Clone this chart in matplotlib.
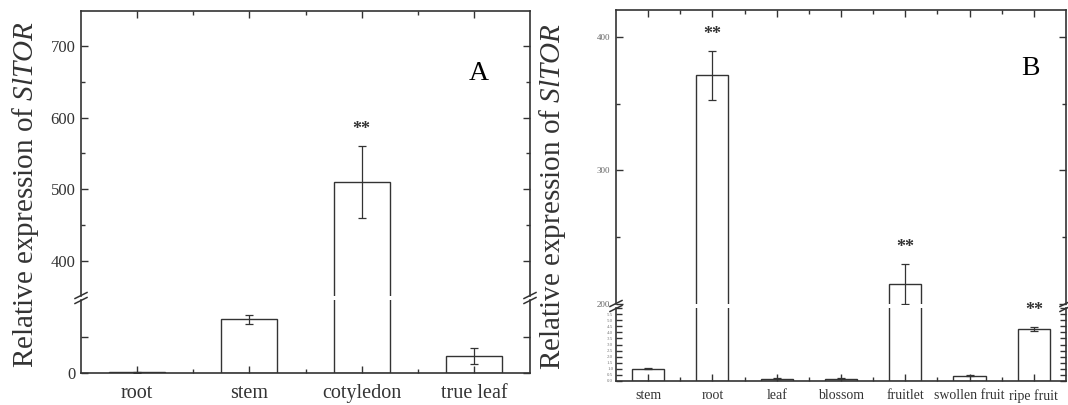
import matplotlib
matplotlib.use('Agg')
import matplotlib.pyplot as plt
from matplotlib.lines import Line2D
from matplotlib.ticker import MultipleLocator

plt.rcParams['font.family'] = 'Liberation Serif'
plt.rcParams['mathtext.fontset'] = 'custom'
plt.rcParams['mathtext.rm'] = 'Liberation Serif'
plt.rcParams['mathtext.it'] = 'Liberation Serif:italic'

# Panel A: seedling tissues
tissues_a = ['root', 'stem', 'cotyledon', 'true leaf']
expr_a = [1, 75, 510, 24]
err_a = [0.5, 6, 50, 11]
sig_a = ['', '', '**', '']

# Panel B: adult plant tissues
tissues_b = ['stem', 'root', 'leaf', 'blossom', 'fruitlet', 'swollen fruit', 'ripe fruit']
expr_b = [1.0, 371, 0.2, 0.2, 215, 0.45, 4.3]
err_b = [0.05, 18.5, 0.05, 0.05, 15, 0.05, 0.15]
sig_b = ['', '**', '', '', '**', '', '**']

# tiny, crowded labels on the lower part of panel B's y axis
low_ticks_b = [0.0, 0.5, 1.0, 1.5, 2.0, 2.5, 3.0, 3.5, 4.0, 4.5, 5.0, 5.5, 6.0]

W, H = 1068, 405
INK = '#333333'


def rect(left, right, top, bottom):
    return [left / W, 1 - bottom / H, (right - left) / W, (bottom - top) / H]


def style(ax, lw=1.2):
    for s in ax.spines.values():
        s.set_color(INK)
        s.set_linewidth(lw)
    ax.tick_params(which='both', direction='in', top=True, right=True, color=INK, labelcolor=INK)
    ax.tick_params(which='major', length=5, width=1)
    ax.tick_params(which='minor', length=3, width=1)


def breakmark(x, y):
    # "//" over the spine gap, pixel coords (y down)
    for dy in (-2.5, 2.5):
        fig.add_artist(Line2D([(x - 6) / W, (x + 6) / W],
                              [1 - (y + dy + 3) / H, 1 - (y + dy - 3) / H],
                              color=INK, lw=1.1))


def panel(left, right, top, gap_top, gap_bot, bottom, names, vals, errs, sigs,
          up_lim, low_lim, tick_fs, lab_fs):
    ax_up = fig.add_axes(rect(left, right, top, gap_top))
    ax_lo = fig.add_axes(rect(left, right, gap_bot, bottom))
    x = list(range(len(names)))
    for ax in (ax_up, ax_lo):
        ax.bar(x, vals, width=0.5, color='white', edgecolor=INK, linewidth=1)
        ax.errorbar(x, vals, yerr=errs, fmt='none', ecolor=INK, elinewidth=0.9,
                    capsize=3, capthick=0.9)
        ax.set_xlim(-0.5, len(names) - 0.5)
        ax.set_xticks(x)
        ax.set_xticks([i + 0.5 for i in x[:-1]], minor=True)
        style(ax)
    ax_up.set_ylim(*up_lim)
    ax_lo.set_ylim(*low_lim)
    ax_up.spines['bottom'].set_visible(False)
    ax_lo.spines['top'].set_visible(False)
    ax_up.tick_params(axis='x', which='both', bottom=False, labelbottom=False)
    ax_lo.tick_params(axis='x', which='both', top=False)
    ax_lo.set_xticklabels(names, fontsize=lab_fs)
    ax_up.tick_params(axis='y', labelsize=tick_fs, pad=4)
    for i, s in enumerate(sigs):
        if not s:
            continue
        ax = ax_up if vals[i] > up_lim[0] else ax_lo
        ax.annotate(s, (i, vals[i] + errs[i]), xytext=(0, 12), textcoords='offset points',
                    ha='center', va='center', fontsize=13, fontweight='bold',
                    color=INK, annotation_clip=False)
    ymid = (gap_top + gap_bot) / 2
    breakmark(left, ymid)
    breakmark(right, ymid)
    return ax_up, ax_lo


fig = plt.figure(figsize=(W / 100, H / 100), dpi=100)

a_up, a_lo = panel(81, 530, 11, 296, 300, 373, tissues_a, expr_a, err_a, sig_a,
                   (351, 749), (0, 102), 12, 14.5)
a_up.yaxis.set_major_locator(MultipleLocator(100))
a_up.yaxis.set_minor_locator(MultipleLocator(50))
a_lo.set_yticks([0, 50])
a_lo.set_yticklabels(['0', ''])
a_lo.tick_params(axis='y', labelsize=12, pad=4)
a_lo.tick_params(axis='x', pad=8)
a_up.text(0.885, 0.78, 'A', transform=a_up.transAxes, fontsize=20,
          ha='center', va='center', color='black')

b_up, b_lo = panel(616, 1066, 10, 304, 308, 381, tissues_b, expr_b, err_b, sig_b,
                   (200, 420), (0, 6), 6.5, 10)
b_up.yaxis.set_major_locator(MultipleLocator(100))
b_up.yaxis.set_minor_locator(MultipleLocator(50))
b_up.tick_params(axis='y', labelcolor='#666666')
b_lo.set_yticks(low_ticks_b)
b_lo.set_yticklabels([f'{t:.1f}' for t in low_ticks_b[:-1]] + [''])
b_lo.tick_params(axis='y', labelsize=3.5, pad=2, labelcolor='#777777', length=4)
b_lo.tick_params(axis='x', pad=6)
b_up.text(0.92, 0.80, 'B', transform=b_up.transAxes, fontsize=20,
          ha='center', va='center', color='black')

ylab = 'Relative expression of $\\mathit{SlTOR}$'
fig.text(26 / W, 1 - 195 / H, ylab, rotation=90, fontsize=21,
         ha='center', va='center', color=INK)
fig.text(552 / W, 1 - 197 / H, ylab, rotation=90, fontsize=21,
         ha='center', va='center', color=INK)

fig.savefig('out.png', dpi=100)
